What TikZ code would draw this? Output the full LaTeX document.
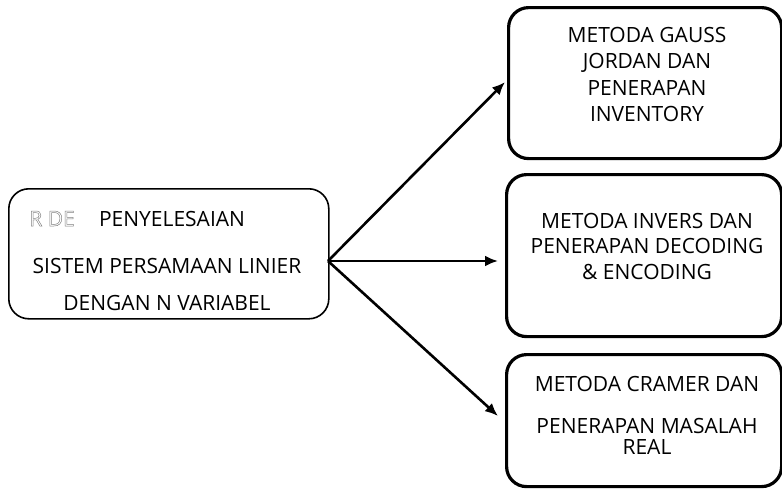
\documentclass[tikz,border=0pt]{standalone}
\usepackage{fontspec}
\setmainfont{Open Sans}
\usetikzlibrary{arrows.meta}
\newcommand{\outlinetext}[1]{\special{pdf:literal direct 1 Tr 0.5 w}#1\special{pdf:literal direct 0 Tr}}
\begin{document}
\begin{tikzpicture}[x=1pt,y=-1pt,
  box/.style={draw, rounded corners=20pt, line width=3.2pt, anchor=north west, inner sep=0pt},
  lbl/.style={font=\fontsize{21}{25}\selectfont, inner sep=0pt, anchor=base},
  arr/.style={-{Latex[length=13pt,width=11pt]}, line width=2.6pt}]
\useasboundingbox (0,0) rectangle (782,490);
\node[draw, rounded corners=20pt, line width=1.6pt, anchor=north west, inner sep=0pt,
      minimum width=320pt, minimum height=130pt] (src) at (8,188) {};
\node[box, minimum width=273pt, minimum height=151pt] (gauss) at (507,6) {};
\node[box, minimum width=275pt, minimum height=162pt] (invers) at (505,173) {};
\node[box, minimum width=275pt, minimum height=132pt] (cramer) at (505,353) {};
% source text
\node[lbl, text=black!50] (rde) at (52,226) {\outlinetext{R DE}};
\node[lbl] (s1) at (172,226) {PENYELESAIAN};
\node[lbl] (s2) at (167,273) {SISTEM PERSAMAAN LINIER};
\node[lbl] (s3) at (167,310) {DENGAN N VARIABEL};
% gauss
\node[lbl] (g1) at (647,42) {METODA GAUSS};
\node[lbl] (g2) at (647,68) {JORDAN DAN};
\node[lbl] (g3) at (647,95) {PENERAPAN};
\node[lbl] (g4) at (647,121) {INVENTORY};
% invers
\node[lbl] (i1) at (647,228) {METODA INVERS DAN};
\node[lbl] (i2) at (647,253) {PENERAPAN DECODING};
\node[lbl] (i3) at (647,279) {\& ENCODING};
% cramer
\node[lbl] (c1) at (647,391) {METODA CRAMER DAN};
\node[lbl] (c2) at (647,433) {PENERAPAN MASALAH};
\node[lbl] (c3) at (647,454) {REAL};
% arrows
\coordinate (o) at (328,261);
\coordinate (tg) at (505,82);
\coordinate (ti) at (498,261);
\coordinate (tc) at (498,416);
\draw[arr] (o) -- (tg);
\draw[arr] (o) -- (ti);
\draw[arr] (o) -- (tc);
\end{tikzpicture}
\end{document}
